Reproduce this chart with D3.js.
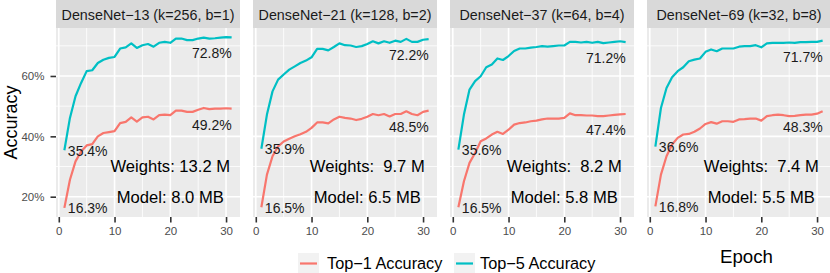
<!DOCTYPE html>
<html>
<head>
<meta charset="utf-8">
<script src="https://cdn.jsdelivr.net/npm/d3@7"></script>
<style>
  body { margin: 0; background: #fff; }
  svg { display: block; font-family: "Liberation Sans", Arial, Helvetica, sans-serif; }
</style>
</head>
<body>
<div id="chart"></div>
<script>
// epochs on the x axis
const epochs = [1, 2, 3, 4, 5, 6, 7, 8, 9, 10, 11, 12, 13, 14, 15, 16,
                17, 18, 19, 20, 21, 22, 23, 24, 25, 26, 27, 28, 29, 30, 31];

const panelTitles = ["DenseNet\u221213 (k=256, b=1)", "DenseNet\u221221 (k=128, b=2)",
                     "DenseNet\u221237 (k=64, b=4)", "DenseNet\u221269 (k=32, b=8)"];
const weightLabels = ["Weights: 13.2 M", "Weights:\u00a0 9.7 M", "Weights:\u00a0 8.2 M", "Weights:\u00a0 7.4 M"];
const modelLabels  = ["Model: 8.0 MB", "Model: 6.5 MB", "Model: 5.8 MB", "Model: 5.5 MB"];

// Top-1 accuracy (%) per epoch
const top1_13 = [16.3, 25.6, 31.7, 35.0, 37.0, 37.4, 40.0, 41.1, 41.4, 41.7, 44.4, 44.8, 46.3, 44.9, 46.3, 46.5,
                 45.6, 47.0, 47.2, 47.0, 48.5, 48.5, 48.1, 48.1, 48.8, 49.4, 49.0, 49.2, 49.2, 49.3, 49.2];
const top1_21 = [16.5, 27.3, 33.4, 36.7, 38.3, 39.2, 40.0, 40.7, 41.5, 42.8, 44.6, 44.6, 44.3, 45.6, 46.5, 46.1,
                 45.9, 45.4, 45.8, 46.5, 47.4, 47.0, 47.4, 46.6, 47.4, 47.4, 48.3, 47.4, 47.0, 48.1, 48.5];
const top1_37 = [16.5, 25.1, 31.2, 34.5, 38.4, 39.3, 40.6, 41.5, 40.8, 42.2, 43.9, 44.4, 44.6, 45.0, 45.2, 45.6,
                 45.9, 45.9, 45.9, 46.1, 47.6, 47.0, 47.0, 46.9, 46.9, 46.7, 46.7, 46.9, 47.1, 47.3, 47.4];
const top1_69 = [16.8, 27.3, 33.4, 37.3, 39.5, 40.6, 40.8, 41.5, 42.6, 44.1, 44.7, 44.2, 45.0, 45.0, 44.8, 45.6,
                 45.7, 45.9, 45.9, 45.2, 46.7, 47.0, 47.2, 47.0, 46.7, 46.8, 47.0, 47.2, 47.2, 47.5, 48.3];

// Top-5 accuracy (%) per epoch
const top5_13 = [35.4, 46.1, 53.3, 57.7, 61.6, 61.9, 64.3, 65.4, 66.0, 66.3, 69.1, 69.5, 70.8, 69.3, 70.2, 70.6,
                 69.7, 71.0, 71.3, 71.0, 72.4, 72.4, 71.9, 71.9, 72.4, 72.7, 72.4, 72.5, 72.7, 72.9, 72.8];
const top5_21 = [35.9, 47.2, 54.9, 58.8, 60.5, 62.1, 63.2, 64.3, 65.1, 66.2, 69.0, 69.0, 68.5, 69.6, 70.8, 70.2,
                 70.1, 69.6, 69.9, 70.6, 71.5, 70.8, 71.5, 71.0, 71.7, 71.3, 72.3, 71.3, 71.3, 72.0, 72.2];
const top5_37 = [35.6, 47.2, 55.5, 58.3, 59.9, 62.9, 63.8, 65.8, 65.3, 66.6, 68.3, 69.1, 69.1, 69.4, 69.6, 69.9,
                 69.7, 69.9, 70.1, 70.1, 71.3, 71.3, 71.1, 71.3, 71.0, 71.3, 70.9, 71.1, 71.3, 71.5, 71.2];
const top5_69 = [36.6, 49.4, 56.0, 59.6, 61.6, 62.9, 64.9, 65.4, 65.8, 68.0, 68.8, 68.2, 69.1, 69.1, 69.1, 69.7,
                 69.9, 69.9, 70.2, 69.5, 70.8, 71.0, 71.0, 71.0, 71.1, 71.0, 71.2, 71.2, 71.3, 71.3, 71.7];

const top1 = [top1_13, top1_21, top1_37, top1_69];
const top5 = [top5_13, top5_21, top5_37, top5_69];

const seriesNames = ["Top\u22121 Accuracy", "Top\u22125 Accuracy"];
const xTicks = [0, 10, 20, 30];
const xMinor = [5, 15, 25];
const yTicks = [20, 40, 60];
const yMinor = [10, 30, 50, 70];

const width = 830, height = 273;
const colors = ["#F8766D", "#00BFC4"];

/// Layout ///
const panelW = 184, panelGap = 13, left0 = 56;
const stripTop = 0, stripH = 28;
const panelTop = 28, panelH = 189;

const svg = d3.select("#chart").append("svg")
    .attr("width", width)
    .attr("height", height);

const x = d3.scaleLinear().domain([-0.5, 32.5]).range([0, panelW]);
const y = d3.scaleLinear().domain([13.27, 75.9]).range([panelH, 0]);

const line = d3.line()
    .x((d, i) => x(epochs[i]))
    .y(d => y(d));

panelTitles.forEach((title, p) => {
    const px = left0 + p * (panelW + panelGap);

    // strip
    svg.append("rect")
        .attr("x", px).attr("y", stripTop)
        .attr("width", panelW).attr("height", stripH)
        .attr("fill", "#D9D9D9");
    svg.append("text")
        .attr("x", px + panelW / 2).attr("y", 19.5)
        .attr("text-anchor", "middle")
        .attr("font-size", "14.3px")
        .attr("fill", "#1A1A1A")
        .text(title);

    const g = svg.append("g").attr("transform", "translate(" + px + "," + panelTop + ")");

    g.append("rect")
        .attr("width", panelW).attr("height", panelH)
        .attr("fill", "#EBEBEB");

    // grid
    g.selectAll(".ymin").data(yMinor).enter().append("line")
        .attr("x1", 0).attr("x2", panelW)
        .attr("y1", d => y(d)).attr("y2", d => y(d))
        .attr("stroke", "#fff").attr("stroke-width", 0.8);
    g.selectAll(".xmin").data(xMinor).enter().append("line")
        .attr("y1", 0).attr("y2", panelH)
        .attr("x1", d => x(d)).attr("x2", d => x(d))
        .attr("stroke", "#fff").attr("stroke-width", 0.8);
    g.selectAll(".ymaj").data(yTicks).enter().append("line")
        .attr("x1", 0).attr("x2", panelW)
        .attr("y1", d => y(d)).attr("y2", d => y(d))
        .attr("stroke", "#fff").attr("stroke-width", 1.6);
    g.selectAll(".xmaj").data(xTicks).enter().append("line")
        .attr("y1", 0).attr("y2", panelH)
        .attr("x1", d => x(d)).attr("x2", d => x(d))
        .attr("stroke", "#fff").attr("stroke-width", 1.6);

    // x axis
    const xAxis = g.append("g")
        .attr("transform", "translate(0," + panelH + ")")
        .call(d3.axisBottom(x).tickValues(xTicks).tickSize(5.5).tickPadding(4));
    xAxis.select(".domain").remove();
    xAxis.selectAll("line").attr("stroke", "#333333").attr("stroke-width", 1.6);
    xAxis.selectAll("text").attr("fill", "#4D4D4D")
        .attr("font-size", "11.5px").attr("font-family", null);

    // y axis only on the first panel
    if (p === 0) {
        const yAxis = g.append("g")
            .call(d3.axisLeft(y).tickValues(yTicks).tickSize(5.5).tickPadding(6)
                .tickFormat(d => d + "%"));
        yAxis.select(".domain").remove();
        yAxis.selectAll("line").attr("stroke", "#333333").attr("stroke-width", 1.6);
        yAxis.selectAll("text").attr("fill", "#4D4D4D")
            .attr("font-size", "11.5px").attr("font-family", null);
    }

    // lines
    [top1[p], top5[p]].forEach((vals, s) => {
        g.append("path")
            .datum(vals)
            .attr("fill", "none")
            .attr("stroke", colors[s])
            .attr("stroke-width", 2.2)
            .attr("stroke-linejoin", "round")
            .attr("d", line);

        const first = vals[0], last = vals[vals.length - 1];
        g.append("text")
            .attr("x", x(epochs[0]) + 3.5).attr("y", y(first) + 5.5)
            .attr("font-size", "14px").attr("fill", "#1A1A1A")
            .text(first.toFixed(1) + "%");
        g.append("text")
            .attr("x", x(epochs[epochs.length - 1])).attr("y", y(last) + 21)
            .attr("text-anchor", "end")
            .attr("font-size", "14px").attr("fill", "#1A1A1A")
            .text(last.toFixed(1) + "%");
    });

    // size notes
    g.append("text")
        .attr("x", x(20)).attr("y", y(30)).attr("dy", "0.36em")
        .attr("text-anchor", "middle")
        .attr("font-size", "16.6px").attr("fill", "#000")
        .text(weightLabels[p]);
    g.append("text")
        .attr("x", x(20)).attr("y", y(20)).attr("dy", "0.36em")
        .attr("text-anchor", "middle")
        .attr("font-size", "16.6px").attr("fill", "#000")
        .text(modelLabels[p]);
});

/// Axis titles ///
svg.append("text")
    .attr("transform", "translate(17," + (panelTop + panelH / 2) + ") rotate(-90)")
    .attr("text-anchor", "middle")
    .attr("font-size", "18px")
    .attr("fill", "#000")
    .text("Accuracy");

svg.append("text")
    .attr("x", 746.5).attr("y", 263)
    .attr("text-anchor", "middle")
    .attr("font-size", "18.7px")
    .attr("fill", "#000")
    .text("Epoch");

/// Legend ///
const legendX = [298, 454];
const legendTextX = [327, 480];
seriesNames.forEach((name, s) => {
    svg.append("rect")
        .attr("x", legendX[s]).attr("y", 253)
        .attr("width", 21).attr("height", 21)
        .attr("fill", "#F2F2F2");
    svg.append("line")
        .attr("x1", legendX[s] + 2).attr("x2", legendX[s] + 19)
        .attr("y1", 263.5).attr("y2", 263.5)
        .attr("stroke", colors[s]).attr("stroke-width", 2.2);
    svg.append("text")
        .attr("x", legendTextX[s]).attr("y", 269.3)
        .attr("font-size", "16.3px")
        .attr("fill", "#000")
        .text(name);
});
</script>
</body>
</html>
